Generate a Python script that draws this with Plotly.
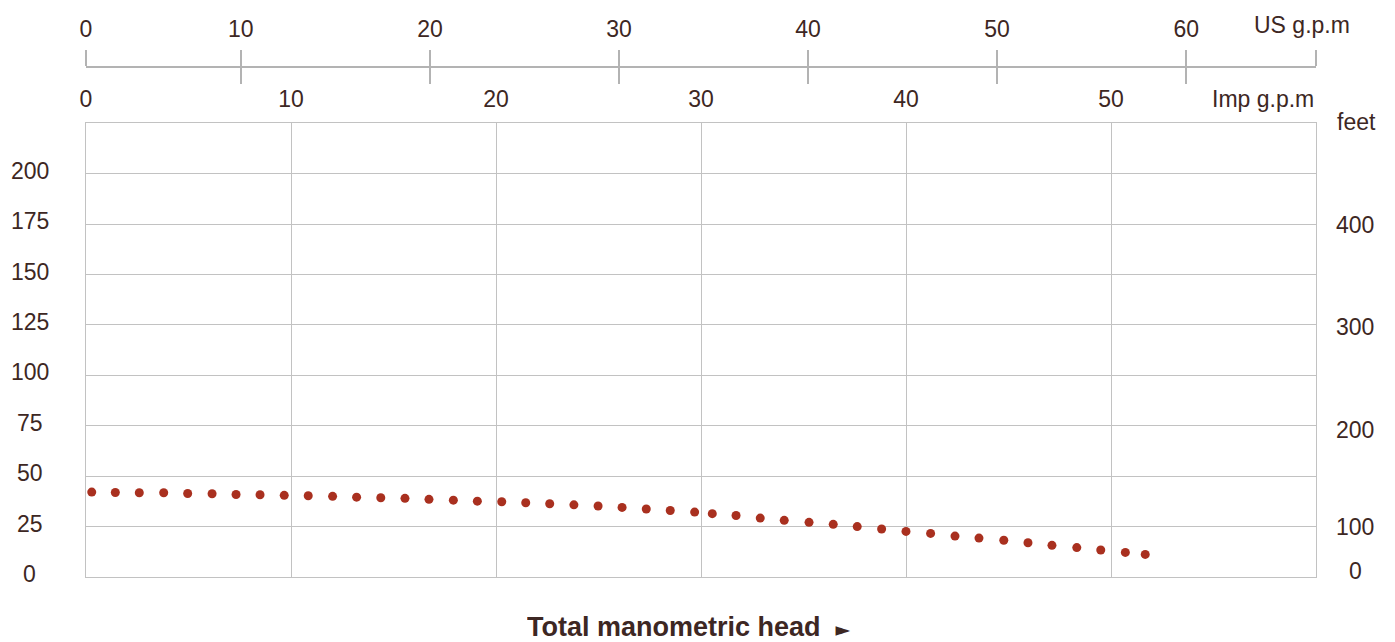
import plotly.graph_objects as go

# ---- data ----
flow_imp = [0.28, 1.43, 2.60, 3.79, 4.96, 6.15, 7.32, 8.49, 9.67, 10.84, 12.03, 13.20,
            14.38, 15.56, 16.73, 17.92, 19.09, 20.28, 21.45, 22.62, 23.80, 24.98, 26.15,
            27.33, 28.50, 29.69, 30.55, 31.71, 32.89, 34.06, 35.27, 36.45, 37.62, 38.81,
            40.00, 41.20, 42.39, 43.56, 44.77, 45.95, 47.12, 48.33, 49.50, 50.70, 51.67]
head_m = [42.1, 41.9, 41.8, 41.8, 41.4, 41.3, 40.9, 40.8, 40.5, 40.3, 40.0, 39.6,
          39.3, 39.0, 38.5, 38.1, 37.6, 37.3, 36.8, 36.3, 35.8, 35.2, 34.5,
          33.7, 33.0, 32.2, 31.4, 30.5, 29.2, 28.1, 27.1, 26.1, 25.0, 23.8,
          22.6, 21.6, 20.3, 19.3, 18.2, 17.0, 15.7, 14.6, 13.4, 12.2, 11.2]

imp_ticks = [0, 10, 20, 30, 40, 50]
us_tick_labels = ["0", "10", "20", "30", "40", "50", "60", ""]
us_tick_pos_imp = [0, 7.55, 16.78, 26.0, 35.22, 44.44, 53.67, 60]
head_ticks = [0, 25, 50, 75, 100, 125, 150, 175, 200]
feet_labels = ["400", "300", "200", "100", "0"]
feet_pos_m = [174.5, 124.0, 73.0, 25.0, 3.0]

TXT = "#3d2723"
GRID = "#c2c2c2"
DOT = "#a9301f"
FONT = "Liberation Sans, Arial, sans-serif"
FS = 23

fig = go.Figure()
fig.add_trace(go.Scatter(x=flow_imp, y=head_m, mode="markers",
                         marker=dict(size=9, color=DOT), showlegend=False,
                         hoverinfo="x+y"))
fig.add_trace(go.Scatter(x=[], y=[], xaxis="x2", showlegend=False))
fig.add_trace(go.Scatter(x=[], y=[], xaxis="x3", showlegend=False))

OFF = 8  # page body margin
W, H = 1395 - OFF, 642 - OFF
L, R, T, B = 86 - OFF, 79, 67 - OFF, 65
PW = W - L - R
plot_top_px = 123.3 - OFF
paper_h = H - T - B
dom_top = (H - B - plot_top_px) / paper_h


def px_x(px):
    return (px - OFF - L) / PW


def px_y(py):
    return (H - B - (py - OFF)) / paper_h


fig.update_layout(
    width=W, height=H,
    margin=dict(l=L, r=R, t=T, b=B),
    paper_bgcolor="white", plot_bgcolor="white",
    font=dict(family=FONT, size=FS, color=TXT),
    xaxis=dict(range=[0, 60], side="top", tickvals=imp_ticks, automargin=False,
               showgrid=True, gridcolor=GRID, gridwidth=1.3,
               showline=True, mirror=True, linecolor=GRID, linewidth=1.3,
               ticks="", zeroline=False, ticklabelstandoff=6,
               tickfont=dict(size=FS, color=TXT)),
    yaxis=dict(range=[0, 225], domain=[0, dom_top], tickvals=head_ticks,
               automargin=False,
               showgrid=True, gridcolor=GRID, gridwidth=1.3,
               showline=True, mirror=True, linecolor=GRID, linewidth=1.3,
               showticklabels=False, ticks="", zeroline=False),
    xaxis2=dict(range=[0, 60], overlaying="x", anchor="free", position=1,
                side="top", tickvals=us_tick_pos_imp, ticktext=us_tick_labels,
                automargin=False,
                ticks="outside", ticklen=16, tickwidth=1.5, tickcolor="#b3b3b3",
                showline=True, linecolor="#b3b3b3", linewidth=1.5,
                showgrid=False, zeroline=False, ticklabelstandoff=4,
                tickfont=dict(size=FS, color=TXT)),
    xaxis3=dict(range=[0, 60], overlaying="x", anchor="free", position=1,
                side="top", tickvals=us_tick_pos_imp, automargin=False,
                ticks="inside", ticklen=16, tickwidth=1.5, tickcolor="#b3b3b3",
                showline=False, showgrid=False, zeroline=False,
                showticklabels=False),
)

ann = []
for v in head_ticks:
    ann.append(dict(x=px_x(30), xref="paper", y=v, yref="y",
                    text=str(v), showarrow=False, xanchor="center", yanchor="middle",
                    yshift=3, font=dict(size=FS, color=TXT)))
for lab, p in zip(feet_labels, feet_pos_m):
    ann.append(dict(x=px_x(1355), xref="paper", y=p, yref="y",
                    text=lab, showarrow=False, xanchor="center", yanchor="middle",
                    font=dict(size=FS, color=TXT)))
ann.append(dict(x=px_x(1356), xref="paper", y=px_y(122), yref="paper",
                text="feet", showarrow=False, xanchor="center", yanchor="middle",
                font=dict(size=FS, color=TXT)))
ann.append(dict(x=px_x(1301.7), xref="paper", y=px_y(25), yref="paper",
                text="US g.p.m", showarrow=False, xanchor="center", yanchor="middle",
                font=dict(size=FS, color=TXT)))
ann.append(dict(x=px_x(1316), xref="paper", y=px_y(99), yref="paper",
                text="Imp g.p.m", showarrow=False, xanchor="right", yanchor="middle",
                font=dict(size=FS, color=TXT)))
ann.append(dict(x=px_x(689), xref="paper", y=px_y(627), yref="paper",
                text="<b>Total manometric head</b>  <span style='font-family:DejaVu Sans;font-size:19px'>►</span>",
                showarrow=False, xanchor="center", yanchor="middle", height=22,
                font=dict(size=27, color=TXT)))
fig.update_layout(annotations=ann)

fig.write_html("out.html")
